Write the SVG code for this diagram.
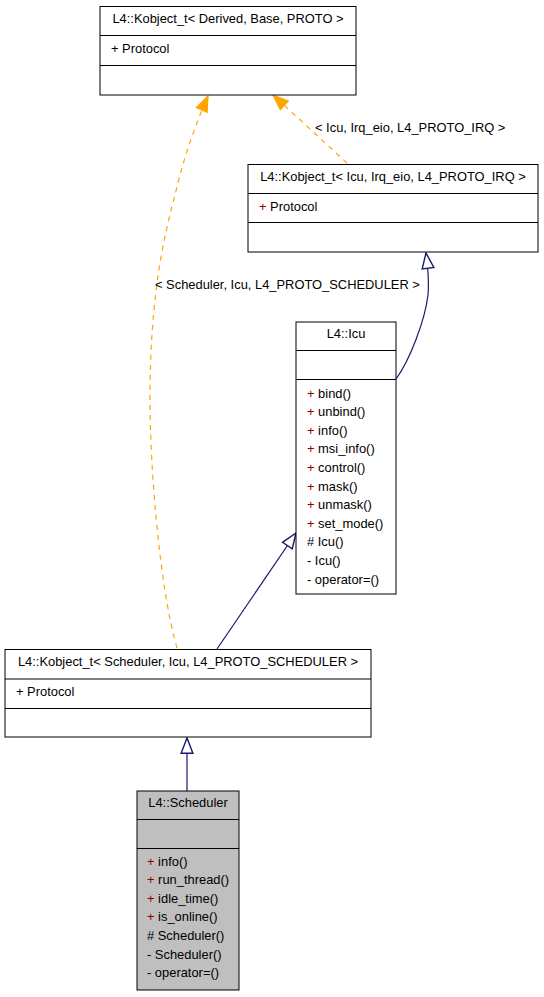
<svg xmlns="http://www.w3.org/2000/svg" width="544" height="997" viewBox="0 0 544 997">
<style>
text{font-family:"Liberation Sans",Arial,sans-serif;font-size:12.9px;fill:#000}
.c{text-anchor:middle}
.p{fill:#8b0000}
.box{fill:#fff;stroke:#000;stroke-width:1}
.cur{fill:#bfbfbf}
.dv{stroke:#000;stroke-width:1.2}
.inh{fill:none;stroke:#191970;stroke-width:1.2}
.tpl{fill:none;stroke:#ffa500;stroke-width:1.2;stroke-dasharray:5,5}
</style>
<defs>
<marker id="hollow" markerUnits="userSpaceOnUse" markerWidth="20" markerHeight="20" viewBox="-15 -8 17 16" refX="0" refY="0" orient="auto">
<path d="M0,0 L-13,-5 L-13,5 Z" fill="#fff" stroke="#191970" stroke-width="1.2"/>
</marker>
<marker id="filled" markerUnits="userSpaceOnUse" markerWidth="20" markerHeight="20" viewBox="-15 -8 17 16" refX="0" refY="0" orient="auto">
<path d="M0,0 L-13,-5 L-13,5 Z" fill="#ffa500" stroke="#ffa500" stroke-width="1"/>
</marker>
</defs>
<g id="connectors">
<path class="tpl" d="M347,163 L273,95" marker-end="url(#filled)"/>
<path class="tpl" d="M177,648 C160,590 150,470 150,400 C150,310 160,250 175,195 C183,160 195,125 208,96" marker-end="url(#filled)"/>
<path class="inh" d="M396,379 C410,360 425,320 428,295 C429,283 428,268 426,253" marker-end="url(#hollow)"/>
<path class="inh" d="M217,649 L296,533" marker-end="url(#hollow)"/>
<path class="inh" d="M187,791 L187,738" marker-end="url(#hollow)"/>
<text x="315" y="132">&lt; Icu, Irq_eio, L4_PROTO_IRQ &gt;</text>
<text x="155" y="289">&lt; Scheduler, Icu, L4_PROTO_SCHEDULER &gt;</text>
</g>
<g id="kobject_base">
<rect class="box" x="100" y="6.5" width="256" height="88.5"/>
<line class="dv" x1="100" y1="35.5" x2="356" y2="35.5"/>
<line class="dv" x1="100" y1="65.5" x2="356" y2="65.5"/>
<text class="c" x="228" y="22.5">L4::Kobject_t&lt; Derived, Base, PROTO &gt;</text>
<text x="111" y="52.5">+ Protocol</text>
</g>
<g id="kobject_irq">
<rect class="box" x="248" y="164.5" width="290" height="87.5"/>
<line class="dv" x1="248" y1="193.5" x2="538" y2="193.5"/>
<line class="dv" x1="248" y1="222.5" x2="538" y2="222.5"/>
<text class="c" x="393" y="180.5">L4::Kobject_t&lt; Icu, Irq_eio, L4_PROTO_IRQ &gt;</text>
<text x="259" y="211"><tspan class="p">+</tspan> Protocol</text>
</g>
<g id="icu">
<rect class="box" x="296" y="322" width="100" height="272"/>
<line class="dv" x1="296" y1="350.5" x2="396" y2="350.5"/>
<line class="dv" x1="296" y1="379.5" x2="396" y2="379.5"/>
<text class="c" x="346" y="338">L4::Icu</text>
<text x="307" y="397.5"><tspan class="p">+</tspan> bind()</text>
<text x="307" y="416.1"><tspan class="p">+</tspan> unbind()</text>
<text x="307" y="434.7"><tspan class="p">+</tspan> info()</text>
<text x="307" y="453.3"><tspan class="p">+</tspan> msi_info()</text>
<text x="307" y="471.9"><tspan class="p">+</tspan> control()</text>
<text x="307" y="490.5"><tspan class="p">+</tspan> mask()</text>
<text x="307" y="509.1"><tspan class="p">+</tspan> unmask()</text>
<text x="307" y="527.7"><tspan class="p">+</tspan> set_mode()</text>
<text x="307" y="546.3"># Icu()</text>
<text x="307" y="564.9">- Icu()</text>
<text x="307" y="583.5">- operator=()</text>
</g>
<g id="kobject_sched">
<rect class="box" x="5" y="649.5" width="366" height="87.5"/>
<line class="dv" x1="5" y1="679" x2="371" y2="679"/>
<line class="dv" x1="5" y1="708.5" x2="371" y2="708.5"/>
<text class="c" x="188" y="665.5">L4::Kobject_t&lt; Scheduler, Icu, L4_PROTO_SCHEDULER &gt;</text>
<text x="16" y="695.5">+ Protocol</text>
</g>
<g id="scheduler">
<rect class="box cur" x="137" y="791" width="102" height="199"/>
<line class="dv" x1="137" y1="819.5" x2="239" y2="819.5"/>
<line class="dv" x1="137" y1="848.5" x2="239" y2="848.5"/>
<text class="c" x="188" y="807">L4::Scheduler</text>
<text x="147" y="865.5"><tspan class="p">+</tspan> info()</text>
<text x="147" y="884.1"><tspan class="p">+</tspan> run_thread()</text>
<text x="147" y="902.7"><tspan class="p">+</tspan> idle_time()</text>
<text x="147" y="921.3"><tspan class="p">+</tspan> is_online()</text>
<text x="147" y="939.9"># Scheduler()</text>
<text x="147" y="958.5">- Scheduler()</text>
<text x="147" y="977.1">- operator=()</text>
</g>
</svg>
